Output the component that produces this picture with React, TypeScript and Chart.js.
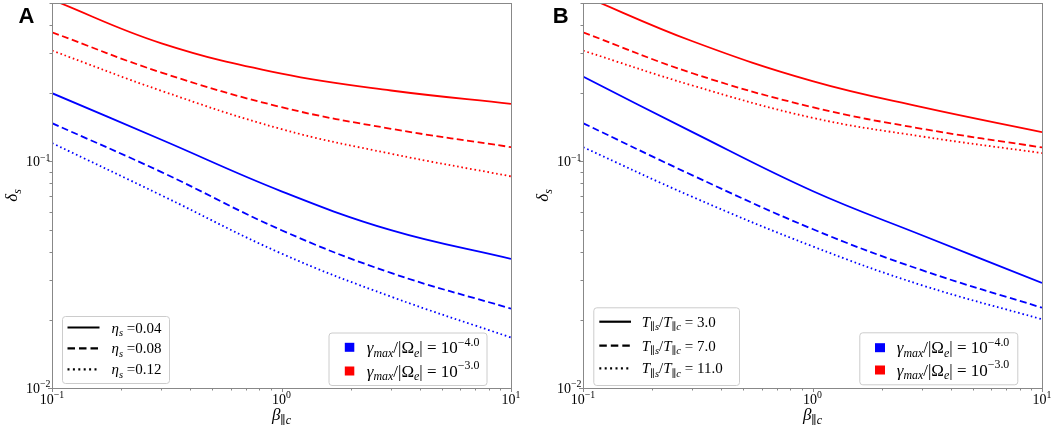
import { useEffect, useRef } from "react"
import { Chart, registerables } from "chart.js"

Chart.register(...registerables)

const BETA = [0.1, 0.3, 1, 3, 10]

// panel A: blue = gamma 1e-4, red = gamma 1e-3; eta_s = 0.04 / 0.08 / 0.12
const A_BLUE_ETA004 = [0.2, 0.1246, 0.0738, 0.0497, 0.0371]
const A_BLUE_ETA008 = [0.1475, 0.0897, 0.0497, 0.0322, 0.0224]
const A_BLUE_ETA012 = [0.1205, 0.0708, 0.0392, 0.0253, 0.0167]
const A_RED_ETA004 = [0.517, 0.332, 0.244, 0.2055, 0.1795]
const A_RED_ETA008 = [0.3713, 0.2466, 0.1735, 0.1393, 0.1156]
const A_RED_ETA012 = [0.3083, 0.2048, 0.1388, 0.1081, 0.0859]

// panel B: T_||s / T_||c = 3 / 7 / 11
const B_BLUE_T3 = [0.2367, 0.1346, 0.074, 0.0472, 0.0291]
const B_BLUE_T7 = [0.1475, 0.0868, 0.0503, 0.0331, 0.0226]
const B_BLUE_T11 = [0.1156, 0.0697, 0.0422, 0.0284, 0.0201]
const B_RED_T3 = [0.539, 0.3389, 0.2259, 0.1735, 0.1346]
const B_RED_T7 = [0.3713, 0.2449, 0.1735, 0.1393, 0.1152]
const B_RED_T11 = [0.3083, 0.2162, 0.1557, 0.1288, 0.1088]

const ETA_S = ["0.04", "0.08", "0.12"]
const T_RATIO = ["3.0", "7.0", "11.0"]
const GAMMA_EXP = ["−4.0", "−3.0"]

const X_TICKS = [0.1, 1, 10]
const X_TICK_EXP = ["−1", "0", "1"]
const Y_TICKS = [0.01, 0.1]
const Y_TICK_EXP = ["−2", "−1"]

const SERIF = "'Liberation Serif', 'DejaVu Serif', serif"
const BLUE = "#0000ff"
const RED = "#ff0000"
const FRAME = "#888888"
const SOLID: number[] = []
const DASH = [7, 3.5]
const DOT = [1.6, 2.8]

type Seg = { t: string; it?: boolean; sub?: boolean; sup?: boolean }

const etaRow = (v: string): Seg[] => [
  { t: "η", it: true },
  { t: "s", it: true, sub: true },
  { t: " =" + v },
]
const tRow = (v: string): Seg[] => [
  { t: "T", it: true },
  { t: "∥", sub: true },
  { t: "s", it: true, sub: true },
  { t: "/" },
  { t: "T", it: true },
  { t: "∥", sub: true },
  { t: "c", it: true, sub: true },
  { t: " = " + v },
]
const gammaRow = (e: string): Seg[] => [
  { t: "γ", it: true },
  { t: "max", it: true, sub: true },
  { t: "/|Ω" },
  { t: "e", it: true, sub: true },
  { t: "| = 10" },
  { t: e, sup: true },
]
const powRow = (e: string): Seg[] => [{ t: "10" }, { t: e, sup: true }]

function segFont(s: Seg, size: number) {
  const sz = s.sub || s.sup ? size * 0.7 : size
  return `${s.it ? "italic " : ""}${sz}px ${SERIF}`
}

function richWidth(ctx: CanvasRenderingContext2D, segs: Seg[], size: number) {
  let w = 0
  for (const s of segs) {
    ctx.font = segFont(s, size)
    w += ctx.measureText(s.t).width
  }
  return w
}

function drawRich(ctx: CanvasRenderingContext2D, segs: Seg[], x: number, y: number, size: number) {
  for (const s of segs) {
    ctx.font = segFont(s, size)
    const dy = s.sub ? size * 0.22 : s.sup ? -size * 0.42 : 0
    ctx.fillText(s.t, x, y + dy)
    x += ctx.measureText(s.t).width
  }
}

function legendBox(ctx: CanvasRenderingContext2D, x0: number, y0: number, x1: number, y1: number) {
  ctx.beginPath()
  ctx.roundRect(x0 + 0.5, y0 + 0.5, x1 - x0, y1 - y0, 3)
  ctx.fillStyle = "rgba(255,255,255,0.8)"
  ctx.fill()
  ctx.strokeStyle = "#cccccc"
  ctx.lineWidth = 1
  ctx.stroke()
}

interface PanelSpec {
  letter: string
  offset: number
  axisLeft: number
  padRight: number
  series: { values: number[]; color: string; dash: number[] }[]
  styleRows: Seg[][]
  styleBox: number[] // x0, y0, x1, y1
  styleLine: number[] // lineX0, lineX1, textX
  styleRowY: number[]
  colorBox: number[]
  colorSq: number[] // sqX0, sqX1, textX
  colorRowY: number[]
  letterPos: number[]
}

const PANEL_A: PanelSpec = {
  letter: "A",
  offset: 0,
  axisLeft: 52,
  padRight: 15,
  series: [
    { values: A_BLUE_ETA004, color: BLUE, dash: SOLID },
    { values: A_BLUE_ETA008, color: BLUE, dash: DASH },
    { values: A_BLUE_ETA012, color: BLUE, dash: DOT },
    { values: A_RED_ETA004, color: RED, dash: SOLID },
    { values: A_RED_ETA008, color: RED, dash: DASH },
    { values: A_RED_ETA012, color: RED, dash: DOT },
  ],
  styleRows: ETA_S.map(etaRow),
  styleBox: [62, 316, 169, 383],
  styleLine: [67.5, 99.5, 111.5],
  styleRowY: [327.5, 348.3, 369.3],
  colorBox: [328.5, 332.5, 486.5, 385],
  colorSq: [344.8, 354.3, 366.8],
  colorRowY: [347.3, 371],
  letterPos: [18.5, 23],
}

const PANEL_B: PanelSpec = {
  letter: "B",
  offset: 526,
  axisLeft: 57,
  padRight: 10,
  series: [
    { values: B_BLUE_T3, color: BLUE, dash: SOLID },
    { values: B_BLUE_T7, color: BLUE, dash: DASH },
    { values: B_BLUE_T11, color: BLUE, dash: DOT },
    { values: B_RED_T3, color: RED, dash: SOLID },
    { values: B_RED_T7, color: RED, dash: DASH },
    { values: B_RED_T11, color: RED, dash: DOT },
  ],
  styleRows: T_RATIO.map(tRow),
  styleBox: [67.3, 307.3, 213, 385],
  styleLine: [73.3, 105, 115.7],
  styleRowY: [321.7, 345.7, 368.3],
  colorBox: [333.3, 332.3, 491.3, 384.3],
  colorSq: [349, 359, 370.7],
  colorRowY: [347.7, 370],
  letterPos: [26.7, 22.7],
}

const STYLE_DASHES = [[], [7.5, 4], [2, 3.4]]

function makeDecor(p: PanelSpec) {
  return {
    id: "decor",
    afterDatasetsDraw(chart: Chart) {
      const { ctx, chartArea: a } = chart
      const xs = chart.scales.x
      const ys = chart.scales.y
      ctx.save()

      // frame + outward ticks (left, bottom)
      ctx.strokeStyle = FRAME
      ctx.lineWidth = 1
      ctx.setLineDash([])
      ctx.strokeRect(a.left + 0.5, a.top + 0.5, a.right - a.left, a.bottom - a.top)
      ctx.beginPath()
      for (let e = -1; e <= 1; e++) {
        for (let m = 1; m <= 9; m++) {
          const v = m * Math.pow(10, e)
          if (v > 10.0001) break
          const px = Math.round(xs.getPixelForValue(v)) + 0.5
          ctx.moveTo(px, a.bottom)
          ctx.lineTo(px, a.bottom + (m === 1 ? 4 : 2.5))
        }
      }
      for (let e = -2; e <= -1; e++) {
        for (let m = 1; m <= 9; m++) {
          const v = m * Math.pow(10, e)
          if (v > 0.5001) break
          const py = Math.round(ys.getPixelForValue(v)) + 0.5
          ctx.moveTo(a.left, py)
          ctx.lineTo(a.left - (m === 1 ? 4 : 2.5), py)
        }
      }
      ctx.stroke()

      ctx.fillStyle = "#000"
      ctx.textBaseline = "alphabetic"
      ctx.textAlign = "left"

      // tick labels at the scales' own positions
      X_TICKS.forEach((v, i) => {
        const segs = powRow(X_TICK_EXP[i])
        const w = richWidth(ctx, segs, 14)
        drawRich(ctx, segs, xs.getPixelForValue(v) - w / 2, a.bottom + 16, 14)
      })
      Y_TICKS.forEach((v, i) => {
        const segs = powRow(Y_TICK_EXP[i])
        const w = richWidth(ctx, segs, 14)
        drawRich(ctx, segs, a.left - 1.5 - w, ys.getPixelForValue(v) + 5, 14)
      })

      // axis titles
      const xt: Seg[] = [{ t: "β", it: true }, { t: "∥", sub: true }, { t: "c", it: true, sub: true }]
      const xw = richWidth(ctx, xt, 17)
      drawRich(ctx, xt, (a.left + a.right) / 2 - xw / 2, 420, 17)
      const yt: Seg[] = [{ t: "δ", it: true }, { t: "s", it: true, sub: true }]
      const yw = richWidth(ctx, yt, 17)
      ctx.save()
      ctx.translate(a.left - 35, (a.top + a.bottom) / 2)
      ctx.rotate(-Math.PI / 2)
      drawRich(ctx, yt, -yw / 2, 0, 17)
      ctx.restore()

      // line-style legend
      const [bx0, by0, bx1, by1] = p.styleBox
      legendBox(ctx, bx0, by0, bx1, by1)
      const [lx0, lx1, tx] = p.styleLine
      p.styleRows.forEach((row, i) => {
        const y = p.styleRowY[i]
        ctx.beginPath()
        ctx.setLineDash(STYLE_DASHES[i])
        ctx.strokeStyle = "#000"
        ctx.lineWidth = 2.2
        ctx.moveTo(lx0, y)
        ctx.lineTo(lx1, y)
        ctx.stroke()
        ctx.setLineDash([])
        ctx.fillStyle = "#000"
        drawRich(ctx, row, tx, y + 5, 15)
      })

      // colour legend
      const [cx0, cy0, cx1, cy1] = p.colorBox
      legendBox(ctx, cx0, cy0, cx1, cy1)
      const [sx0, sx1, ctx0] = p.colorSq
      GAMMA_EXP.forEach((ex, i) => {
        const y = p.colorRowY[i]
        ctx.fillStyle = i === 0 ? BLUE : RED
        ctx.fillRect(sx0, y - 4.5, sx1 - sx0, 9)
        ctx.fillStyle = "#000"
        drawRich(ctx, gammaRow(ex), ctx0, y + 5.5, 17)
      })

      // panel letter
      ctx.font = `bold 22px 'Liberation Sans', Arial, sans-serif`
      ctx.fillText(p.letter, p.letterPos[0], p.letterPos[1])
      ctx.restore()
    },
  }
}

function Panel({ spec }: { spec: PanelSpec }) {
  const ref = useRef<HTMLCanvasElement>(null)

  useEffect(() => {
    if (!ref.current) return
    const chart = new Chart(ref.current, {
      type: "line",
      data: {
        datasets: spec.series.map(s => ({
          data: BETA.map((x, i) => ({ x, y: s.values[i] })),
          borderColor: s.color,
          borderDash: s.dash,
          borderWidth: 1.8,
          pointRadius: 0,
          fill: false,
          tension: 0.4,
        })),
      },
      options: {
        animation: false,
        responsive: false,
        events: [],
        layout: { padding: { top: 3, right: spec.padRight, left: 0, bottom: 0 } },
        plugins: { legend: { display: false }, tooltip: { enabled: false } },
        scales: {
          x: {
            type: "logarithmic",
            min: 0.1,
            max: 10,
            grid: { display: false },
            border: { display: false },
            ticks: { display: false },
            afterFit: (s: any) => {
              s.height = 40
              s.paddingLeft = 0
              s.paddingRight = 0
            },
          },
          y: {
            type: "logarithmic",
            min: 0.01,
            max: 0.5,
            grid: { display: false },
            border: { display: false },
            ticks: { display: false },
            afterFit: (s: any) => {
              s.width = spec.axisLeft
              s.paddingTop = 0
              s.paddingBottom = 0
            },
          },
        },
      },
      plugins: [makeDecor(spec)],
    })
    return () => chart.destroy()
  }, [spec])

  return (
    <canvas
      ref={ref}
      width={526}
      height={428}
      style={{ position: "absolute", left: spec.offset, top: 0, width: 526, height: 428 }}
    />
  )
}

export default function App() {
  return (
    <div style={{ position: "fixed", left: 0, top: 0, width: 1052, height: 428, background: "#fff" }}>
      <Panel spec={PANEL_A} />
      <Panel spec={PANEL_B} />
    </div>
  )
}
